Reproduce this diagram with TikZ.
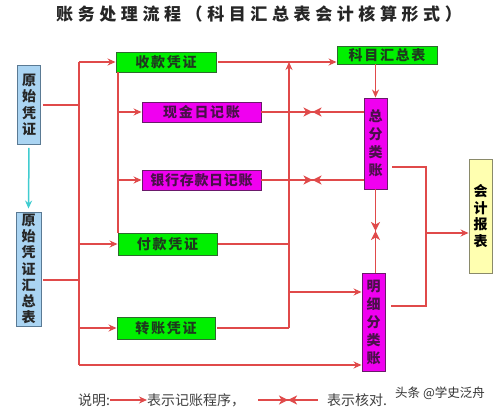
\documentclass[tikz,border=0pt]{standalone}
\usepackage{fontspec}
\newfontfamily\cjk{Noto Sans CJK SC}
\usetikzlibrary{arrows.meta,decorations.markings,calc}
\definecolor{lred}{HTML}{E04A4A}
\definecolor{lgreen}{HTML}{00F000}
\definecolor{dgreen}{HTML}{2E6A2E}
\definecolor{gtext}{HTML}{1E3A1E}
\definecolor{mag}{HTML}{F000F0}
\definecolor{dmag}{HTML}{6A1A6A}
\definecolor{mtext}{HTML}{4A104A}
\definecolor{lblue}{HTML}{AAD4F2}
\definecolor{dblue}{HTML}{5A7A94}
\definecolor{lyel}{HTML}{FFFFB0}
\definecolor{dyel}{HTML}{8A8A6A}
\definecolor{cyanl}{HTML}{40CCD0}
\tikzset{
  rline/.style={draw=lred, line width=1.5pt},
  rarr/.style={rline, -{Stealth[length=8pt,width=7pt]}},
  chk/.style={rline, postaction={decorate},
    decoration={markings, mark=at position 0.5 with {\arrow[lred]{Stealth[length=9pt,width=9pt,inset=2.5pt]}\arrowreversed[lred]{Stealth[length=9pt,width=9pt,inset=2.5pt]}}}},
  box/.style={line width=0.9pt, inner sep=0pt, anchor=center, align=center},
  gbox/.style={box, fill=lgreen, draw=dgreen, text=gtext, font=\cjk\bfseries\fontsize{14}{16}\selectfont},
  mbox/.style={box, fill=mag, draw=dmag, text=mtext, font=\cjk\bfseries\fontsize{14}{16}\selectfont},
  mvbox/.style={box, fill=mag, draw=dmag, text=mtext, font=\cjk\bfseries\fontsize{14}{18}\selectfont},
  bvbox/.style={box, fill=lblue, draw=dblue, text=black!85, font=\cjk\bfseries\fontsize{14}{16.3}\selectfont},
  yvbox/.style={box, fill=lyel, draw=dyel, text=black, font=\cjk\bfseries\fontsize{14}{16.5}\selectfont},
  legend/.style={inner sep=0pt, anchor=west, text=black!75, font=\cjk\fontsize{14}{16}\selectfont},
}
\begin{document}
\begin{tikzpicture}[x=1pt,y=-1pt]
\useasboundingbox[fill=white] (0,0) rectangle (500,411);
% title
\node[inner sep=0pt, font=\cjk\bfseries\fontsize{17}{20}\selectfont\addfontfeature{LetterSpace=27}, text=black!85] (title) at (259,14) {账务处理流程（科目汇总表会计核算形式）};
% boxes
\node[bvbox, minimum width=23pt, minimum height=79pt] (yz1) at (29,105) {原\\始\\凭\\证};
\node[bvbox, minimum width=25pt, minimum height=114pt] (yz2) at (28.5,269) {原\\始\\凭\\证\\汇\\总\\表};
\node[gbox, minimum width=100pt, minimum height=20pt] (sk) at (166,62) {\addfontfeature{LetterSpace=12}收款凭证};
\node[mbox, minimum width=119pt, minimum height=20pt] (xj) at (201.5,112) {\addfontfeature{LetterSpace=12}现金日记账};
\node[mbox, minimum width=119pt, minimum height=20pt] (yh) at (201.5,180) {\addfontfeature{LetterSpace=5}银行存款日记账};
\node[gbox, minimum width=100pt, minimum height=18pt] (km) at (387,55) {\addfontfeature{LetterSpace=12}科目汇总表};
\node[mvbox, minimum width=23pt, minimum height=91pt] (zf) at (375.5,143.5) {总\\分\\类\\账};
\node[yvbox, minimum width=23pt, minimum height=114pt] (bb) at (480.5,216) {会\\计\\报\\表};
\node[gbox, minimum width=99pt, minimum height=22pt] (fk) at (167.5,244) {\addfontfeature{LetterSpace=12}付款凭证};
\node[gbox, minimum width=98pt, minimum height=22pt] (zz) at (166,328) {\addfontfeature{LetterSpace=12}转账凭证};
\node[mvbox, minimum width=23pt, minimum height=98pt] (mx) at (373.5,322) {明\\细\\分\\类\\账};
% helper coordinates
\coordinate (ta) at (79,62);
\coordinate (tb) at (79,365);
\coordinate (sa) at (118,72);
\coordinate (sb) at (118,233);
\coordinate (ua) at (289,62);
\coordinate (ub) at (289,328);
\coordinate (mxin) at (289,292);
\coordinate (ra0) at (392,167);
\coordinate (ra) at (426,167);
\coordinate (rb) at (426,306);
\coordinate (rb0) at (391,306);
\coordinate (rc) at (426,233);
% cyan arrow
\draw[cyanl, line width=1.5pt, -{Stealth[length=8pt,width=7pt]}, shorten <=3pt, shorten >=3pt] (yz1.south) -- (yz2.north);
% left trunk
\draw[rline] (ta) -- (tb);
\draw[rline] ($(yz1.east)+(2,0)$) -- (yz1.east -| ta);
\draw[rline] ($(yz2.east)+(2,11)$) -- ($(yz2.east -| ta)+(0,11)$);
\draw[rarr] (ta) -- (sk.west);
\draw[rarr] (ta |- fk.west) -- (fk.west);
\draw[rarr] (ta |- zz.west) -- (zz.west);
\draw[rarr] (tb) -- (tb -| mx.west);
% second trunk
\draw[rline] (sa) -- (sb);
\draw[rarr] (sa |- xj.west) -- (xj.west);
\draw[rarr] (sa |- yh.west) -- (yh.west);
% top line
\draw[rarr] ($(sk.east)+(2,0)$) -- (km.west |- sk.east);
% third trunk
\draw[rarr] (ub) -- (ua);
\draw[rline] ($(fk.east)+(1,0)$) -- (fk.east -| ua);
\draw[rline] ($(zz.east)+(2,0)$) -- (ub);
\draw[rarr] (mxin) -- (mxin -| mx.west);
% ledger links
\draw[rarr] (km.south -| zf.north) -- (zf.north);
\draw[chk] (zf.west |- xj.east) -- (xj.east);
\draw[chk] (zf.west |- yh.east) -- (yh.east);
\draw[chk] (zf.south) -- (zf.south |- mx.north);
% right loop
\draw[rline] (ra0) -- (ra) -- (rb) -- (rb0);
\draw[rarr] (rc) -- (rc -| bb.west);
% legend
\node[legend] (lg1) at (78,400) {说明:};
\node[legend] (lg2) at (147,400) {表示记账程序，};
\node[legend] (lg3) at (327,400) {表示核对.};
\coordinate (c1) at (258,400);
\coordinate (c2) at (318,400);
\draw[rarr] (lg1.east) -- (lg2.west);
\draw[chk] (c1) -- (c2);
\node[inner sep=0pt, anchor=west, text=black!80, font=\cjk\fontsize{12.5}{14}\selectfont] (wm) at (395,393) {头条 @学史泛舟};
\end{tikzpicture}
\end{document}
